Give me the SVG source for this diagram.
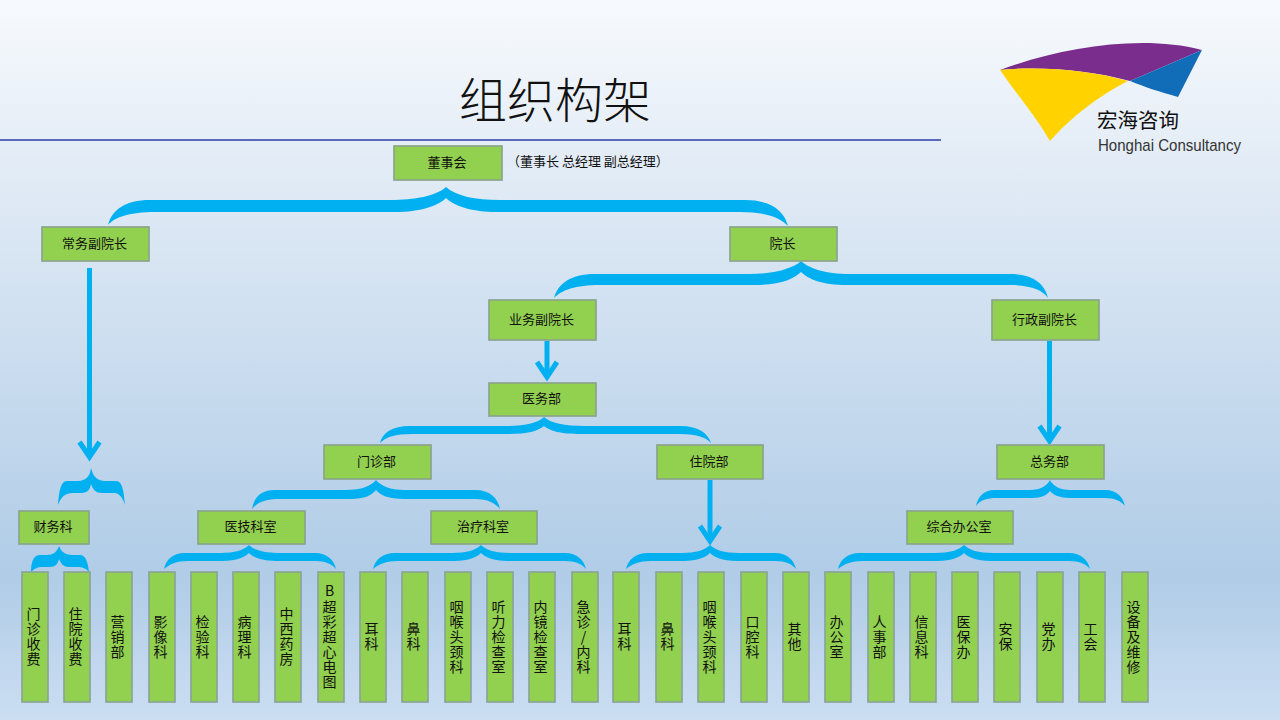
<svg xmlns="http://www.w3.org/2000/svg" width="1280" height="720" viewBox="0 0 1280 720">
<style>
text{font-family:"Noto Sans CJK SC","Liberation Sans",sans-serif;fill:#111}
.n rect{fill:#92d050;stroke:#8ba58b;stroke-width:1.700}
.n text{font-size:13px;text-anchor:middle;dominant-baseline:central;transform:translate(-1px,-1.500px)}
.b rect{fill:#92d050;stroke:#8ba598;stroke-width:1.700}
.b text{font-size:14px;text-anchor:middle;writing-mode:vertical-rl;text-orientation:upright;letter-spacing:1.100px;dominant-baseline:central;transform:translateX(-1.500px)}
.brace{fill:#00b0f0}
.arrow{stroke:#00b0f0;stroke-width:5;fill:none}
</style>
<defs>
<linearGradient id="bg" x1="0" y1="0" x2="0" y2="1">
<stop offset="0" stop-color="#f7fafd"/>
<stop offset="0.19" stop-color="#e6eef7"/>
<stop offset="0.8" stop-color="#b0cce7"/>
<stop offset="1" stop-color="#cbdef2"/>
</linearGradient>
<marker id="head" markerUnits="userSpaceOnUse" markerWidth="30" markerHeight="30" viewBox="0 0 30 30" refX="24" refY="15" orient="auto" overflow="visible">
<path d="M9 5L24 15L9 25" fill="none" stroke="#00b0f0" stroke-width="5"/>
</marker>
</defs>
<rect width="1280" height="720" fill="url(#bg)"/>
<text x="555" y="118" text-anchor="middle" style="font-size:48px;font-weight:300">组织构架</text>
<line x1="0" y1="140" x2="941" y2="140" stroke="#5b6ab8" stroke-width="1.800"/>
<g id="logo">
<path d="M1000 70C1060 48 1140 34 1202 50L1130 81C1090 70 1040 66 1000 70Z" fill="#7b2d8e"/>
<path d="M1202 50L1178 97C1160 92 1145 87 1130 81Z" fill="#116db8"/>
<path d="M1000 70C1040 66 1090 70 1128 81C1100 95 1070 118 1050 141C1035 115 1015 92 1000 70Z" fill="#ffd200"/>
<text x="1097" y="128" style="font-size:20.500px">宏海咨询</text>
<text x="1098" y="151" textLength="143" lengthAdjust="spacingAndGlyphs" style="font-family:'Liberation Sans',sans-serif;font-size:17px;fill:#333">Honghai Consultancy</text>
</g>
<g id="connectors">
<path class="brace" d="M446 187C436 196 415 200 390 200L150 200C125 200 112 210 108 225C115 217 130 212 155 212L395 212C420 212 438 206 446 198C454 206 472 212 497 212L740 212C765 212 780 217 788 226C784 210 770 200 745 200L500 200C475 200 456 196 446 187Z"/>
<path class="brace" d="M801 261C794 268 775 274 750 274L595 274C570 274 558 284 554 298C562 290 575 285 600 285L755 285C780 285 794 279 801 272C808 279 822 285 847 285L1010 285C1030 285 1043 290 1048 298C1045 284 1033 274 1010 274L850 274C825 274 808 268 801 261Z"/>
<path class="brace" d="M544 417C538 423 525 426 505 426L410 426C392 426 382 433 380 443C386 437 395 434 412 434L508 434C528 434 538 431 544 426C550 431 560 434 582 434L680 434C695 434 706 437 711 443C708 433 698 426 680 426L585 426C565 426 550 423 544 417Z"/>
<path class="brace" d="M376 480C371 486 362 490 345 490L275 490C260 490 254 498 252 509C258 502 265 499 280 499L350 499C365 499 372 495 376 490C380 495 388 499 405 499L475 499C488 499 495 503 500 509C498 498 490 490 475 490L405 490C390 490 381 486 376 480Z"/>
<path class="brace" d="M1050 480C1047 486 1040 490 1030 490L995 490C983 490 978 497 976 506C980 500 987 498 997 498L1032 498C1042 498 1047 495 1050 491C1053 495 1060 498 1070 498L1105 498C1115 498 1121 501 1125 506C1123 497 1117 490 1105 490L1070 490C1060 490 1053 486 1050 480Z"/>
<path class="brace" d="M91 468C90 476 86 481 78 481L67 481C60 481 59 494 58 505C61 497 65 493 73 493L81 493C87 493 90 490 91 484C93 490 96 493 102 493L114 493C120 493 123 499 125 505C124 494 123 481 116 481L105 481C97 481 93 476 91 468Z"/>
<path class="brace" d="M59 546C57 552 53 555 47 555L40 555C33 555 31 563 31 572C34 569 37 567 43 567L50 567C55 567 58 564 59 559C61 564 64 567 69 567L77 567C83 567 87 569 89 572C88 563 86 555 80 555L72 555C66 555 61 552 59 546Z"/>
<path class="brace" d="M249 545C244 550 235 553 220 553L185 553C172 553 166 560 164 569C170 564 176 561 188 561L222 561C237 561 245 557 249 553C253 557 261 561 276 561L315 561C326 561 332 564 336 569C334 560 327 553 315 553L278 553C263 553 254 550 249 545Z"/>
<path class="brace" d="M481 545C476 550 467 553 452 553L395 553C382 553 375 560 373 569C379 564 386 561 398 561L454 561C469 561 477 557 481 553C485 557 493 561 508 561L565 561C576 561 582 564 586 569C584 560 577 553 565 553L510 553C495 553 486 550 481 545Z"/>
<path class="brace" d="M710 545C705 550 696 553 681 553L648 553C635 553 628 560 626 569C632 564 639 561 651 561L683 561C698 561 706 557 710 553C714 557 722 561 737 561L775 561C786 561 792 564 796 569C794 560 787 553 775 553L739 553C724 553 715 550 710 545Z"/>
<path class="brace" d="M964 545C959 550 950 553 935 553L860 553C847 553 840 560 838 569C844 564 851 561 863 561L937 561C952 561 960 557 964 553C968 557 976 561 991 561L1069 561C1080 561 1086 564 1090 569C1088 560 1081 553 1069 553L993 553C978 553 969 550 964 545Z"/>
<line class="arrow" x1="89.500" y1="268" x2="89.500" y2="457" marker-end="url(#head)"/>
<line class="arrow" x1="547" y1="341" x2="547" y2="377" marker-end="url(#head)"/>
<line class="arrow" x1="1049.500" y1="341" x2="1049.500" y2="441" marker-end="url(#head)"/>
<line class="arrow" x1="710" y1="480" x2="710" y2="541" marker-end="url(#head)"/>
</g>
<g id="n-dongshihui" class="n"><rect x="394" y="146" width="108" height="34"/><text x="448" y="163">董事会</text></g>
<text x="507" y="166" style="font-size:13px">（董事长 总经理 副总经理）</text>
<g id="n-changwu" class="n"><rect x="42" y="227" width="107" height="34"/><text x="95.500" y="244">常务副院长</text></g>
<g id="n-yuanzhang" class="n"><rect x="730" y="227" width="107" height="34"/><text x="783.500" y="244">院长</text></g>
<g id="n-yewu" class="n"><rect x="489" y="300" width="107" height="40"/><text x="542.500" y="320">业务副院长</text></g>
<g id="n-xingzheng" class="n"><rect x="992" y="300" width="107" height="40"/><text x="1045.500" y="320">行政副院长</text></g>
<g id="n-yiwu" class="n"><rect x="489" y="383" width="107" height="33"/><text x="542.500" y="399">医务部</text></g>
<g id="n-menzhen" class="n"><rect x="324" y="445" width="107" height="34"/><text x="377.500" y="462">门诊部</text></g>
<g id="n-zhuyuan" class="n"><rect x="657" y="445" width="106" height="34"/><text x="710" y="462">住院部</text></g>
<g id="n-zongwu" class="n"><rect x="997" y="445" width="107" height="34"/><text x="1050.500" y="462">总务部</text></g>
<g id="n-caiwu" class="n"><rect x="19" y="511" width="70" height="33"/><text x="54" y="527">财务科</text></g>
<g id="n-yiji" class="n"><rect x="198" y="511" width="107" height="33"/><text x="251.500" y="527">医技科室</text></g>
<g id="n-zhiliao" class="n"><rect x="431" y="511" width="106" height="33"/><text x="484" y="527">治疗科室</text></g>
<g id="n-zonghe" class="n"><rect x="907" y="511" width="106" height="33"/><text x="960" y="527">综合办公室</text></g>
<g id="b01" class="b"><rect x="22" y="572" width="26" height="130"/><text x="35" y="637">门诊收费</text></g>
<g id="b02" class="b"><rect x="64" y="572" width="26" height="130"/><text x="77" y="637">住院收费</text></g>
<g id="b03" class="b"><rect x="106" y="572" width="26" height="130"/><text x="119" y="637">营销部</text></g>
<g id="b04" class="b"><rect x="149" y="572" width="26" height="130"/><text x="162" y="637">影像科</text></g>
<g id="b05" class="b"><rect x="191" y="572" width="26" height="130"/><text x="204" y="637">检验科</text></g>
<g id="b06" class="b"><rect x="233" y="572" width="26" height="130"/><text x="246" y="637">病理科</text></g>
<g id="b07" class="b"><rect x="275" y="572" width="26" height="130"/><text x="288" y="637">中西药房</text></g>
<g id="b08" class="b"><rect x="318" y="572" width="26" height="130"/><text x="331" y="637">B超彩超心电图</text></g>
<g id="b09" class="b"><rect x="360" y="572" width="26" height="130"/><text x="373" y="637">耳科</text></g>
<g id="b10" class="b"><rect x="402" y="572" width="26" height="130"/><text x="415" y="637">鼻科</text></g>
<g id="b11" class="b"><rect x="445" y="572" width="26" height="130"/><text x="458" y="637">咽喉头颈科</text></g>
<g id="b12" class="b"><rect x="487" y="572" width="26" height="130"/><text x="500" y="637">听力检查室</text></g>
<g id="b13" class="b"><rect x="529" y="572" width="26" height="130"/><text x="542" y="637">内镜检查室</text></g>
<g id="b14" class="b"><rect x="572" y="572" width="26" height="130"/><text x="585" y="637">急诊/内科</text></g>
<g id="b15" class="b"><rect x="613" y="572" width="26" height="130"/><text x="626" y="637">耳科</text></g>
<g id="b16" class="b"><rect x="656" y="572" width="26" height="130"/><text x="669" y="637">鼻科</text></g>
<g id="b17" class="b"><rect x="698" y="572" width="26" height="130"/><text x="711" y="637">咽喉头颈科</text></g>
<g id="b18" class="b"><rect x="741" y="572" width="26" height="130"/><text x="754" y="637">口腔科</text></g>
<g id="b19" class="b"><rect x="783" y="572" width="26" height="130"/><text x="796" y="637">其他</text></g>
<g id="b20" class="b"><rect x="825" y="572" width="26" height="130"/><text x="838" y="637">办公室</text></g>
<g id="b21" class="b"><rect x="868" y="572" width="26" height="130"/><text x="881" y="637">人事部</text></g>
<g id="b22" class="b"><rect x="910" y="572" width="26" height="130"/><text x="923" y="637">信息科</text></g>
<g id="b23" class="b"><rect x="952" y="572" width="26" height="130"/><text x="965" y="637">医保办</text></g>
<g id="b24" class="b"><rect x="994" y="572" width="26" height="130"/><text x="1007" y="637">安保</text></g>
<g id="b25" class="b"><rect x="1037" y="572" width="26" height="130"/><text x="1050" y="637">党办</text></g>
<g id="b26" class="b"><rect x="1079" y="572" width="26" height="130"/><text x="1092" y="637">工会</text></g>
<g id="b27" class="b"><rect x="1122" y="572" width="26" height="130"/><text x="1135" y="637">设备及维修</text></g>
</svg>
